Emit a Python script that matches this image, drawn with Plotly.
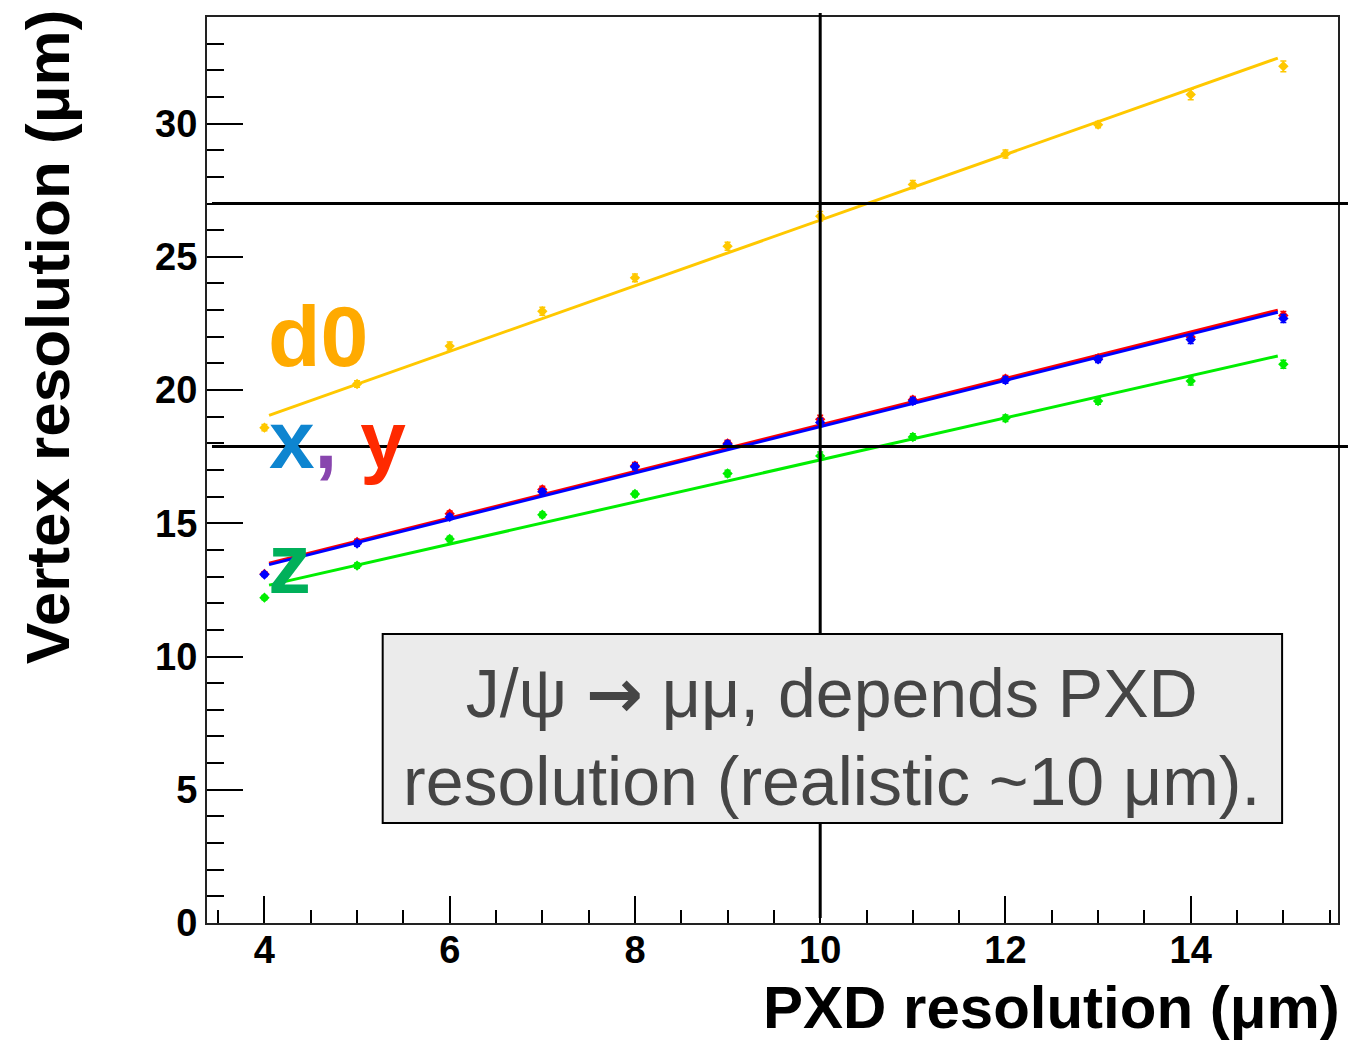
import plotly.graph_objects as go

# ---- data -------------------------------------------------------------
pxd_res = [4, 5, 6, 7, 8, 9, 10, 11, 12, 13, 14, 15]

d0_res = [18.59, 20.23, 21.65, 22.96, 24.21, 25.40, 26.52, 27.71, 28.86, 29.96, 31.09, 32.15]
d0_err = [0.12, 0.12, 0.15, 0.15, 0.15, 0.15, 0.18, 0.15, 0.15, 0.12, 0.2, 0.2]

y_res = [13.10, 14.30, 15.36, 16.27, 17.16, 18.00, 18.90, 19.64, 20.43, 21.20, 21.99, 22.80]
y_err = [0.08, 0.1, 0.1, 0.12, 0.12, 0.12, 0.15, 0.12, 0.12, 0.12, 0.15, 0.15]

x_res = [13.08, 14.24, 15.24, 16.18, 17.12, 17.97, 18.78, 19.59, 20.38, 21.15, 21.90, 22.69]
x_err = [0.08, 0.1, 0.1, 0.12, 0.12, 0.12, 0.15, 0.12, 0.12, 0.12, 0.15, 0.15]

z_res = [12.21, 13.41, 14.41, 15.32, 16.10, 16.87, 17.53, 18.24, 18.94, 19.59, 20.34, 20.97]
z_err = [0.08, 0.1, 0.1, 0.1, 0.1, 0.12, 0.15, 0.12, 0.12, 0.12, 0.15, 0.15]

# straight-line fits, evaluated at the ends of the fit range
fit_x = [4.05, 14.94]
d0_fit = [19.05, 32.46]
y_fit = [13.50, 23.00]
x_fit = [13.45, 22.92]
z_fit = [12.68, 21.28]

# reference lines
ref_h = [27.0, 17.88]
ref_v = 10.0

x_ticks = [4, 6, 8, 10, 12, 14]
y_ticks = [0, 5, 10, 15, 20, 25, 30]

# ---- geometry helpers (frame in page pixels) ---------------------------
W_PAGE, H_PAGE = 1348, 1044
L, R, T, B = 207, 1340, 17, 923


def px(x):
    return (x - L) / (R - L)


def py(y):
    return (B - y) / (B - T)


FONT = "Liberation Sans"

series = [
    ("d0", d0_res, d0_err, d0_fit, "#FFC800"),
    ("y", y_res, y_err, y_fit, "#FF0000"),
    ("x", x_res, x_err, x_fit, "#0000FF"),
    ("z", z_res, z_err, z_fit, "#00EE00"),
]

fig = go.Figure()
for name, vals, errs, fit, col in series:
    fig.add_trace(go.Scatter(
        x=fit_x, y=fit, mode="lines", line=dict(color=col, width=3),
        showlegend=False, hoverinfo="skip"))
    fig.add_trace(go.Scatter(
        x=pxd_res, y=vals, mode="markers", name=name,
        marker=dict(symbol="diamond", size=8, color=col),
        error_y=dict(type="data", array=errs, color=col, thickness=1.5, width=3),
        showlegend=False))

shapes = []
for yv in ref_h:
    shapes.append(dict(type="line", xref="paper", yref="y",
                       x0=px(212), x1=px(W_PAGE + 2), y0=yv, y1=yv,
                       line=dict(color="black", width=3)))
shapes.append(dict(type="line", xref="x", yref="paper",
                   x0=ref_v, x1=ref_v, y0=py(918), y1=py(13),
                   line=dict(color="black", width=3)))
# caption box
shapes.append(dict(type="rect", xref="paper", yref="paper",
                   x0=px(383), x1=px(1284), y0=py(823), y1=py(634),
                   fillcolor="#EBEBEB", line=dict(color="black", width=2)))

arrow = '<span style="font-family:\'DejaVu Sans\';font-weight:bold">→</span>'

annotations = [
    dict(text=f"J/ψ {arrow} μμ, depends PXD<br>resolution (realistic ~10 μm).",
         xref="paper", yref="paper", x=px(833), y=py(736),
         xanchor="center", yanchor="middle", showarrow=False, align="center",
         font=dict(family=FONT, size=68, color="#454545")),
    dict(text="d0", xref="paper", yref="paper", x=px(266), y=py(336),
         xanchor="left", yanchor="middle", showarrow=False,
         font=dict(family=FONT, size=86, color="#FFAA00", weight="bold")),
    dict(text='<span style="color:#0E85D0">x</span>'
              '<span style="color:#8845AE">,</span> '
              '<span style="color:#FF2A00">y</span>',
         xref="paper", yref="paper", x=px(267), y=py(439),
         xanchor="left", yanchor="middle", showarrow=False,
         font=dict(family=FONT, size=82, color="#0E85D0", weight="bold")),
    dict(text="z", xref="paper", yref="paper", x=px(266), y=py(563),
         xanchor="left", yanchor="middle", showarrow=False,
         font=dict(family=FONT, size=86, color="#00B05A", weight="bold")),
    # axis titles
    dict(text="Vertex resolution (μm)", xref="paper", yref="paper",
         x=px(47), y=py(337), xanchor="center", yanchor="middle",
         textangle=-90, showarrow=False,
         font=dict(family=FONT, size=62, color="black", weight="bold")),
    dict(text="PXD resolution (μm)", xref="paper", yref="paper",
         x=px(1344), y=py(1008), xanchor="right", yanchor="middle",
         showarrow=False,
         font=dict(family=FONT, size=60, color="black", weight="bold")),
]

fig.update_layout(
    width=W_PAGE, height=H_PAGE,
    margin=dict(l=L, r=W_PAGE - R, t=T, b=H_PAGE - B),
    paper_bgcolor="white", plot_bgcolor="white",
    shapes=shapes, annotations=annotations,
    xaxis=dict(range=[3.38, 15.59], tickvals=x_ticks,
               ticks="inside", ticklen=27, tickwidth=1.5, tickcolor="black",
               minor=dict(dtick=0.5, tick0=0, ticks="inside", ticklen=13,
                          tickwidth=1.5, tickcolor="black"),
               showline=True, linecolor="#222", linewidth=2, mirror=True,
               showgrid=False, zeroline=False, ticklabelstandoff=-8,
               tickfont=dict(family=FONT, size=38, color="black", weight="bold")),
    yaxis=dict(range=[0, 34], tickvals=y_ticks,
               ticks="inside", ticklen=36, tickwidth=2, tickcolor="black",
               minor=dict(dtick=1, tick0=0, ticks="inside", ticklen=17,
                          tickwidth=2, tickcolor="black"),
               showline=True, linecolor="#222", linewidth=2, mirror=True,
               showgrid=False, zeroline=False, ticklabelstandoff=0,
               tickfont=dict(family=FONT, size=38, color="black", weight="bold")),
)

fig.write_html("out.html")
